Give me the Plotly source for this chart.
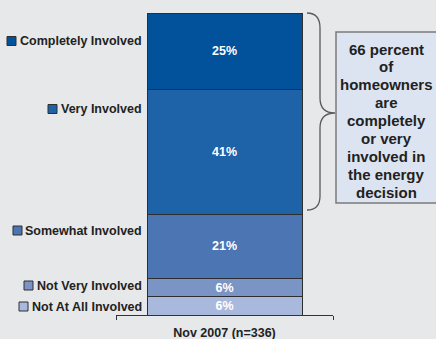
import plotly.graph_objects as go

# ---- data ----
categories = ["Nov 2007 (n=336)"]
segments = ["Not At All Involved", "Not Very Involved", "Somewhat Involved", "Very Involved", "Completely Involved"]
values = [6, 6, 21, 41, 25]
colors = ["#a8b9dd", "#7b94c6", "#4b76b3", "#1e62a7", "#02519b"]
callout_lines = ["66 percent", "of", "homeowners", "are", "completely", "or very",
                 "involved in", "the energy", "decision"]

W, H = 436, 339
L, R, T, B = 116, 333, 13, 315  # plot area in pixels


def px(x):
    return (x - L) / (R - L)


def py(y):
    return (B - y) / (B - T)


TXT = "#222222"
FONT = "Liberation Sans, Arial, sans-serif"

fig = go.Figure()
for name, v, c in zip(segments, values, colors):
    fig.add_trace(go.Bar(
        x=categories, y=[v], name=name, width=155 / 217,
        marker=dict(color=c, line=dict(color="#2e2e2e", width=1)),
        text=[f"{v}%"], textposition="inside", insidetextanchor="middle",
        textangle=0, constraintext="none",
        textfont=dict(color="white", size=12.5, family=FONT, weight="bold"),
        hoverinfo="skip",
    ))

# legend-like labels with squares (pixel positions measured from reference)
label_pos = {
    "Completely Involved": (41, 7),
    "Very Involved": (109, 48),
    "Somewhat Involved": (230.5, 13),
    "Not Very Involved": (285.5, 24),
    "Not At All Involved": (306.5, 19),
}
annotations = []
shapes = []
for name, c in zip(segments, colors):
    yc, sx = label_pos[name]
    annotations.append(dict(
        xref="paper", yref="paper", x=px(144), y=py(yc), xanchor="right", yanchor="middle",
        text=f"<b>{name}</b>", showarrow=False,
        font=dict(size=12.5, color=TXT, family=FONT),
    ))
    shapes.append(dict(
        type="rect", xref="paper", yref="paper",
        x0=px(sx), x1=px(sx + 9), y0=py(yc + 4.5), y1=py(yc - 4.5),
        fillcolor=c, line=dict(color="#2e2e2e", width=1),
    ))

# brace
pts = [(307, 13), (320, 13), (320, 28), (320, 98), (320, 113), (335, 113),
       (320, 113), (320, 128), (320, 196), (320, 210), (307, 210)]
P = [f"{px(a):.5f},{py(b):.5f}" for a, b in pts]
path = (f"M {P[0]} Q {P[1]} {P[2]} L {P[3]} Q {P[4]} {P[5]} "
        f"Q {P[6]} {P[7]} L {P[8]} Q {P[9]} {P[10]}")
shapes.append(dict(type="path", xref="paper", yref="paper", path=path,
                   line=dict(color="#5a5a5a", width=1.3)))

# callout box
shapes.append(dict(type="rect", xref="paper", yref="paper",
                   x0=px(336), x1=px(441), y0=py(203), y1=py(32),
                   fillcolor="#dde4f1", line=dict(color="#7a7a7a", width=1.5)))
for i, line in enumerate(callout_lines):
    annotations.append(dict(
        xref="paper", yref="paper", x=px(386), y=py(49 + i * 17.9),
        xanchor="center", yanchor="middle", text=f"<b>{line}</b>", showarrow=False,
        font=dict(size=15, color=TXT, family=FONT),
    ))

fig.update_layout(
    width=W, height=H, margin=dict(l=L, r=W - R, t=T, b=H - B, pad=0, autoexpand=False),
    paper_bgcolor="#e7e8ea", plot_bgcolor="#e7e8ea",
    barmode="stack", showlegend=False,
    shapes=shapes, annotations=annotations,
    xaxis=dict(type="category", range=[-0.5, 0.5], tickson="boundaries",
               ticks="outside", ticklen=4, tickcolor="#333", tickwidth=1,
               showline=True, linecolor="#333", linewidth=1, showgrid=False,
               tickfont=dict(size=12.5, color=TXT, family=FONT, weight="bold"),
               ticklabelstandoff=6, automargin=False, fixedrange=True),
    yaxis=dict(visible=False, range=[0, 99], fixedrange=True, automargin=False),
)

fig.write_html("out.html", config={"displayModeBar": False})
